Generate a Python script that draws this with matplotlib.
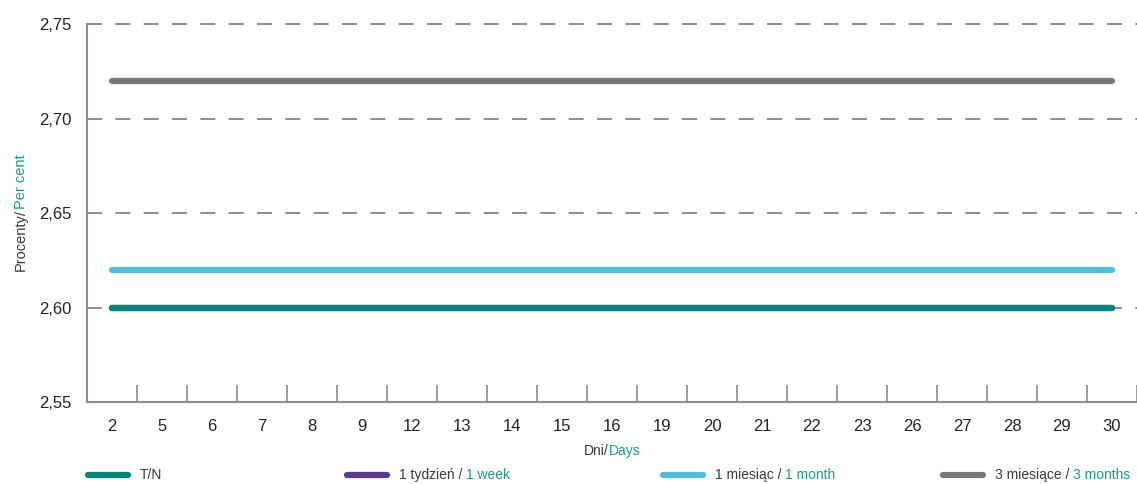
"""
Line chart of term structure rates by day (Polish/English bilingual labels).
Writes out.png.
"""

import matplotlib

matplotlib.use("Agg")
import matplotlib.pyplot as plt
from matplotlib import font_manager
from matplotlib.lines import Line2D
from matplotlib.ticker import FixedLocator, NullFormatter

plt.rcParams["font.family"] = ["Liberation Sans", "DejaVu Sans"]

DAYS = ["2", "5", "6", "7", "8", "9", "12", "13", "14", "15", "16",
        "19", "20", "21", "22", "23", "26", "27", "28", "29", "30"]
TN = [2.60, 2.60, 2.60, 2.60, 2.60, 2.60, 2.60, 2.60, 2.60, 2.60, 2.60,
      2.60, 2.60, 2.60, 2.60, 2.60, 2.60, 2.60, 2.60, 2.60, 2.60]
WEEK_1 = [2.60, 2.60, 2.60, 2.60, 2.60, 2.60, 2.60, 2.60, 2.60, 2.60, 2.60,
          2.60, 2.60, 2.60, 2.60, 2.60, 2.60, 2.60, 2.60, 2.60, 2.60]
MONTH_1 = [2.62, 2.62, 2.62, 2.62, 2.62, 2.62, 2.62, 2.62, 2.62, 2.62, 2.62,
           2.62, 2.62, 2.62, 2.62, 2.62, 2.62, 2.62, 2.62, 2.62, 2.62]
MONTH_3 = [2.72, 2.72, 2.72, 2.72, 2.72, 2.72, 2.72, 2.72, 2.72, 2.72, 2.72,
           2.72, 2.72, 2.72, 2.72, 2.72, 2.72, 2.72, 2.72, 2.72, 2.72]
Y_TICKS = [2.55, 2.60, 2.65, 2.70, 2.75]
Y_TICK_LABELS = ["2,55", "2,60", "2,65", "2,70", "2,75"]

SERIES = [
    ("1 tydzień / ", "1 week", WEEK_1, "#5c3a8e"),
    ("1 miesiąc / ", "1 month", MONTH_1, "#52bcd9"),
    ("3 miesiące / ", "3 months", MONTH_3, "#78787a"),
    ("T/N", "", TN, "#00857b"),
]
LEGEND_ORDER = [3, 0, 1, 2]

DARK = "#3a3a3a"
TEAL = "#1a9a8c"
AXIS = "#8c8c8c"

_names = {f.name for f in font_manager.fontManager.ttflist}
TICK_FAMILY = "Liberation Sans Narrow" if "Liberation Sans Narrow" in _names else "Liberation Sans"
TICK_SIZE = 13 if TICK_FAMILY == "Liberation Sans Narrow" else 12


def two_colour_text(fig, renderer, x, y, first, second, rotation=0, size=10, ha="left"):
    """Draw 'first' in dark and 'second' in teal, joined, at figure coords."""
    t1 = fig.text(x, y, first, color=DARK, fontsize=size, rotation=rotation,
                  va="center", ha="left" if rotation == 0 else "center")
    bb = t1.get_window_extent(renderer)
    if not second:
        return
    if rotation == 0:
        t2 = fig.text(0, y, second, color=TEAL, fontsize=size, va="center")
        bb2 = t2.get_window_extent(renderer)
        total = bb.width + bb2.width
        if ha == "center":
            x0 = x * fig.bbox.width - total / 2
        else:
            x0 = x * fig.bbox.width
        t1.set_x(x0 / fig.bbox.width)
        t2.set_x((x0 + bb.width) / fig.bbox.width)
    else:
        t2 = fig.text(x, 0, second, color=TEAL, fontsize=size, rotation=90,
                      va="center", ha="center")
        bb2 = t2.get_window_extent(renderer)
        total = bb.height + bb2.height
        y0 = y * fig.bbox.height - total / 2
        t1.set_y((y0 + bb.height / 2) / fig.bbox.height)
        t2.set_y((y0 + bb.height + bb2.height / 2) / fig.bbox.height)


def main() -> None:
    fig = plt.figure(figsize=(11.37, 4.84), dpi=100)
    ax = fig.add_axes([0.0765, 0.1694, 0.9235, 0.7806])
    x = list(range(len(DAYS)))
    for _, _, vals, colour in SERIES:
        ax.plot(x, vals, color=colour, linewidth=4.5, solid_capstyle="round", zorder=3)

    ax.set_xlim(-0.5, len(DAYS) - 0.5)
    ax.set_ylim(2.55, 2.75)
    ax.set_yticks(Y_TICKS)
    ax.set_yticklabels(Y_TICK_LABELS, family=TICK_FAMILY)
    ax.set_xticks(x)
    ax.set_xticklabels(DAYS, family=TICK_FAMILY)
    ax.xaxis.set_minor_locator(FixedLocator([i - 0.5 for i in range(len(DAYS) + 1)]))
    ax.xaxis.set_minor_formatter(NullFormatter())
    ax.tick_params(axis="x", which="major", length=0, pad=12, labelsize=TICK_SIZE,
                   labelcolor="#222222")
    ax.tick_params(axis="x", which="minor", direction="in", length=12, width=1.2, color=AXIS)
    ax.tick_params(axis="y", length=0, pad=11, labelsize=TICK_SIZE, labelcolor="#222222")
    for g in Y_TICKS[1:]:
        ax.axhline(g, color="#7a7a7a", linewidth=1.2, dashes=(9, 8), zorder=1, clip_on=False)
    for side in ("top", "right"):
        ax.spines[side].set_visible(False)
    for side in ("left", "bottom"):
        ax.spines[side].set_color(AXIS)
        ax.spines[side].set_linewidth(1.5)

    fig.canvas.draw()
    renderer = fig.canvas.get_renderer()
    two_colour_text(fig, renderer, 0.5383, 1 - 451 / 484, "Dni/", "Days", size=10, ha="center")
    two_colour_text(fig, renderer, 0.0185, 1 - 213 / 484, "Procenty/", "Per cent",
                    rotation=90, size=10.5)

    leg_x = [88, 347, 663, 943]
    ly = 1 - 475 / 484
    W = fig.bbox.width
    for px, idx in zip(leg_x, LEGEND_ORDER):
        pl, en, _, colour = SERIES[idx]
        fig.add_artist(Line2D([px / W, (px + 40) / W], [ly, ly], color=colour,
                              linewidth=4.5, solid_capstyle="round",
                              transform=fig.transFigure))
        two_colour_text(fig, renderer, (px + 52) / W, ly, pl, en, size=10)

    fig.savefig("out.png", dpi=100)
    plt.close(fig)


if __name__ == "__main__":
    main()
